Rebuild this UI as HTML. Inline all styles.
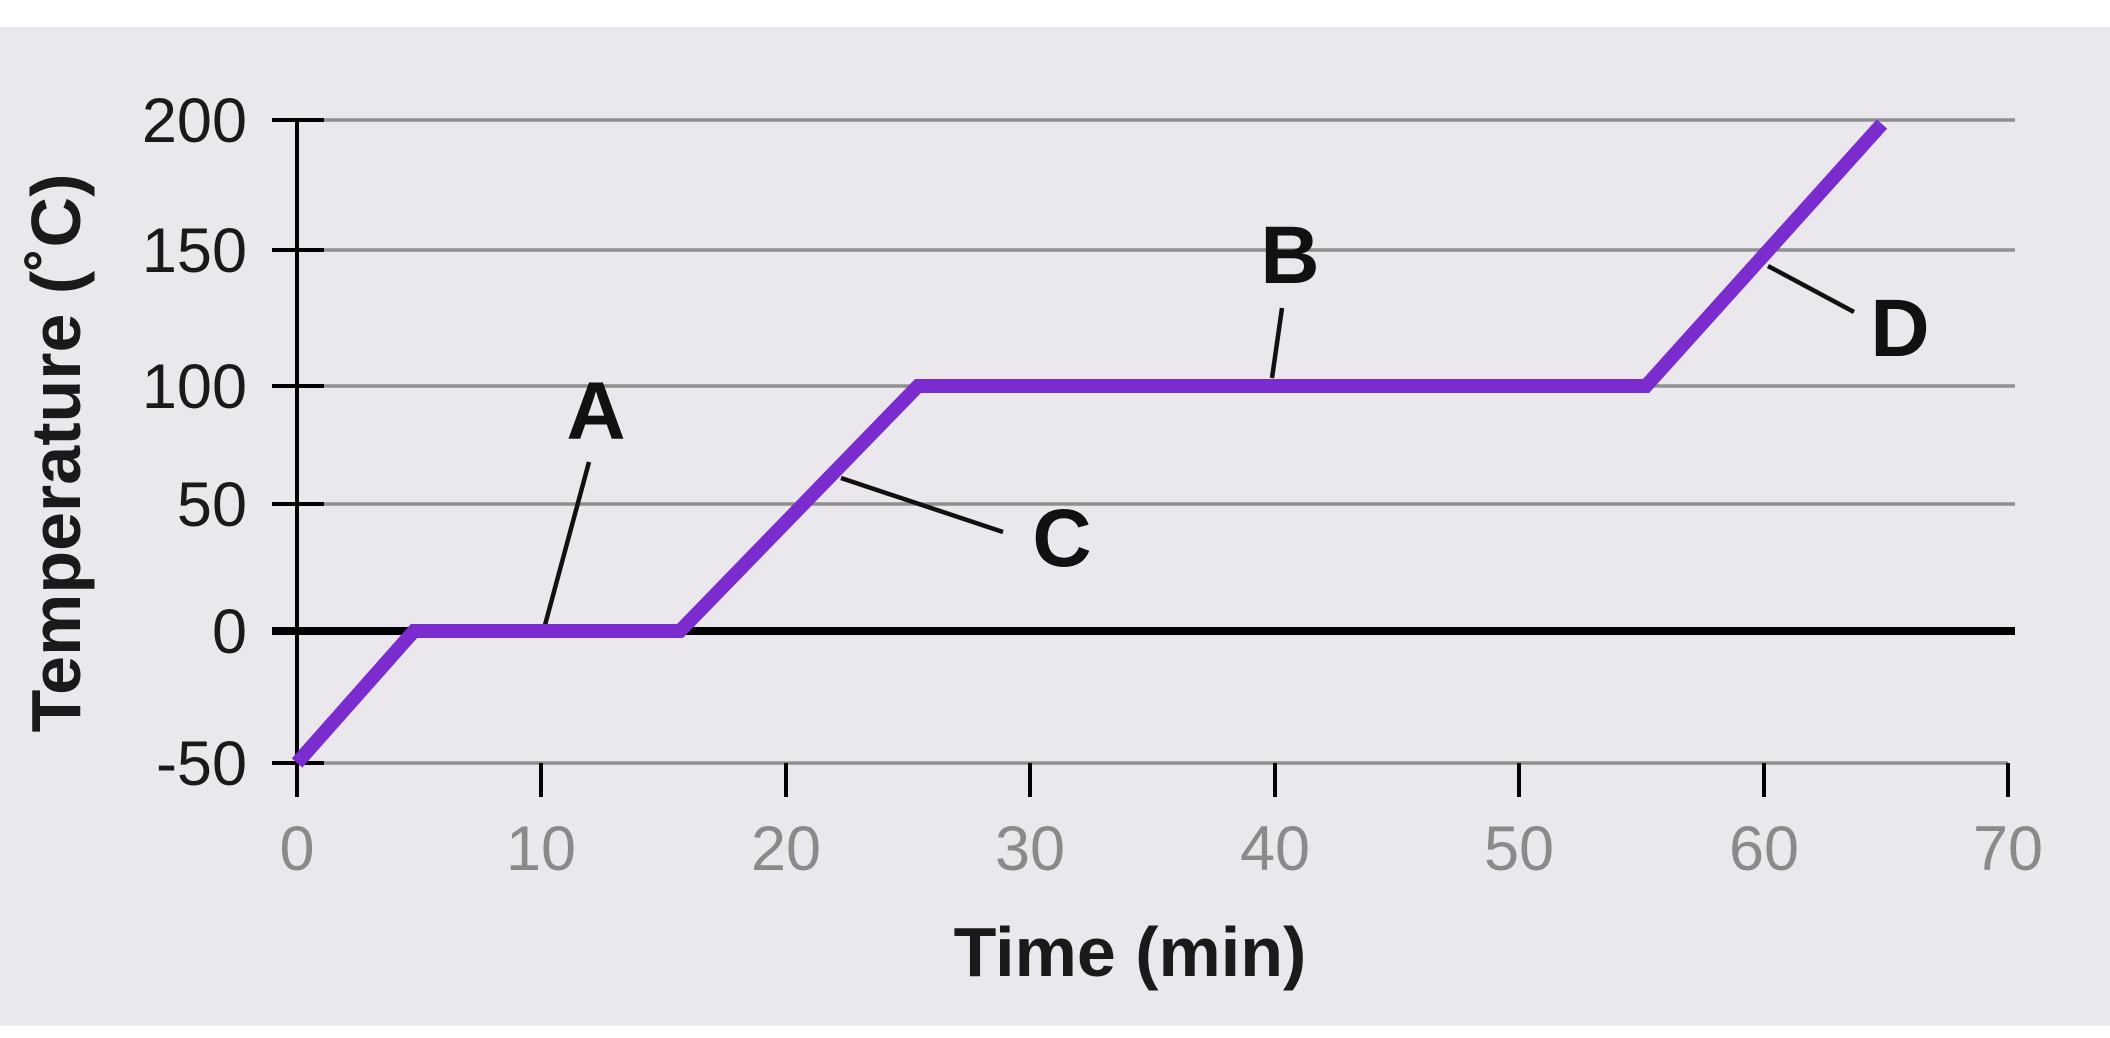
<!DOCTYPE html>
<html><head><meta charset="utf-8"><style>
html,body{margin:0;padding:0;background:#fff;}
svg{display:block;}
</style></head><body>
<svg width="2110" height="1038" viewBox="0 0 2110 1038" xmlns="http://www.w3.org/2000/svg" font-family="Liberation Sans, Arial, sans-serif">
<rect x="0" y="0" width="2110" height="1038" fill="#ffffff"/>
<rect x="0" y="27" width="2110" height="999" fill="#eae8ed"/>
<g stroke="#8f8f8f" stroke-width="3.5">
<line x1="297" y1="120" x2="2015" y2="120"/>
<line x1="297" y1="250" x2="2015" y2="250"/>
<line x1="297" y1="386" x2="2015" y2="386"/>
<line x1="297" y1="504" x2="2015" y2="504"/>
<line x1="297" y1="763" x2="2008" y2="763"/>
</g>
<line x1="272" y1="631" x2="2015" y2="631" stroke="#000" stroke-width="8"/>
<g stroke="#000" stroke-width="4">
<line x1="297" y1="118" x2="297" y2="797"/>
<line x1="272" y1="120" x2="324" y2="120"/>
<line x1="272" y1="250" x2="324" y2="250"/>
<line x1="272" y1="386" x2="324" y2="386"/>
<line x1="272" y1="504" x2="324" y2="504"/>
<line x1="272" y1="763" x2="324" y2="763"/>
<line x1="541" y1="763" x2="541" y2="797"/>
<line x1="786" y1="763" x2="786" y2="797"/>
<line x1="1030" y1="763" x2="1030" y2="797"/>
<line x1="1275" y1="763" x2="1275" y2="797"/>
<line x1="1519" y1="763" x2="1519" y2="797"/>
<line x1="1764" y1="763" x2="1764" y2="797"/>
<line x1="2008" y1="763" x2="2008" y2="797"/>
</g>
<g font-size="63" fill="#1a1a1a" text-anchor="end">
<text x="247" y="142">200</text>
<text x="247" y="272">150</text>
<text x="247" y="408">100</text>
<text x="247" y="526">50</text>
<text x="247" y="653">0</text>
<text x="247" y="785">-50</text>
</g>
<g font-size="63" fill="#8a8a8a" text-anchor="middle">
<text x="297" y="870">0</text>
<text x="541" y="870">10</text>
<text x="786" y="870">20</text>
<text x="1030" y="870">30</text>
<text x="1275" y="870">40</text>
<text x="1519" y="870">50</text>
<text x="1764" y="870">60</text>
<text x="2008" y="870">70</text>
</g>
<text x="1130" y="976" font-size="70" font-weight="bold" fill="#1a1a1a" text-anchor="middle">Time (min)</text>
<text transform="translate(80,453) rotate(-90)" font-size="70" font-weight="bold" fill="#1a1a1a" text-anchor="middle">Temperature (˚C)</text>
<g stroke="#111" stroke-width="4.5">
<line x1="589" y1="462" x2="545" y2="625"/>
<line x1="1282" y1="308" x2="1272" y2="378"/>
<line x1="841" y1="478" x2="1003" y2="532"/>
<line x1="1768" y1="266" x2="1854" y2="312"/>
</g>
<polyline points="297,763 414,631 680,631 918,386 1646,386 1882,124" fill="none" stroke="#7b2ccf" stroke-width="14" stroke-linejoin="miter"/>
<g font-size="82" font-weight="bold" fill="#111" text-anchor="middle">
<text x="596" y="439">A</text>
<text x="1290" y="283">B</text>
<text x="1062" y="566">C</text>
<text x="1900" y="356">D</text>
</g>
</svg>
</body></html>
